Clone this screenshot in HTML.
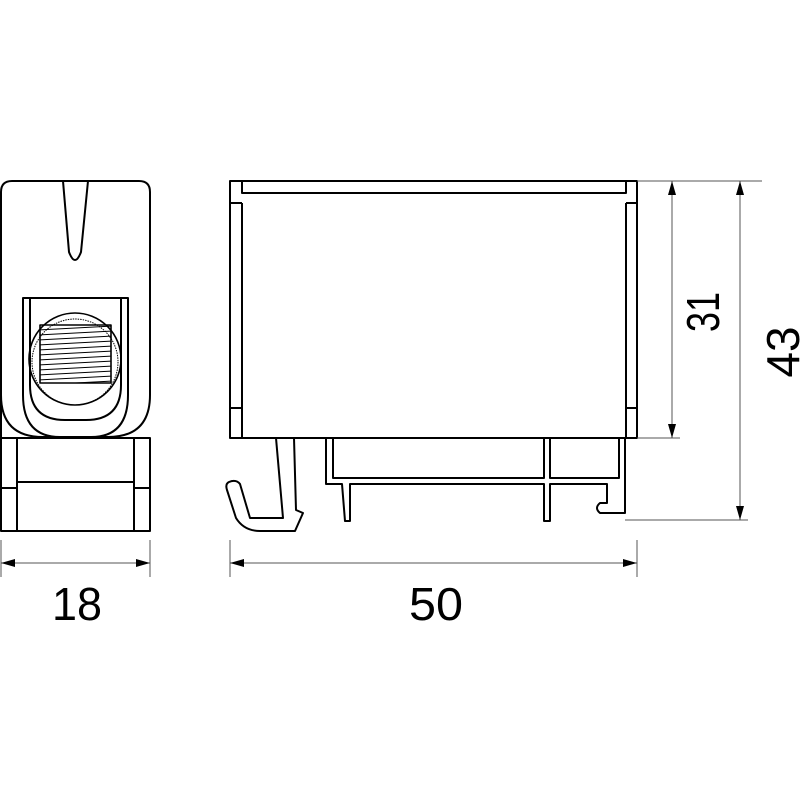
<!DOCTYPE html>
<html><head><meta charset="utf-8"><style>html,body{margin:0;padding:0;background:#fff}svg{display:block}</style></head>
<body>
<svg width="800" height="800" viewBox="0 0 800 800" xmlns="http://www.w3.org/2000/svg">
<defs>
<clipPath id="sq"><rect x="40" y="325" width="71" height="58"/></clipPath>
</defs>
<g fill="none" stroke="#000" stroke-width="2" stroke-linejoin="round">
<!-- front view -->
<path d="M1,438 L1,192 Q1,181 12,181 L139,181 Q150,181 150,192 L150,395 Q150,437 108,437 L43,437 Q1,437 1,395"/>
<path d="M63,181 L69,252 Q75,268 81,252 L88,181"/>
<path d="M23,395 L23,298 L128,298 L128,395"/>
<path d="M23,395 Q23,437 60,437 M128,395 Q128,437 91,437"/>
<path d="M30,298 L30,385 Q30,420 65,420 L86,420 Q121,420 121,385 L121,298"/>
<circle cx="75" cy="359" r="46" stroke-width="1.6"/>
<circle cx="75" cy="362" r="43" stroke-width="1" stroke-dasharray="1.5 1"/>
<rect x="40" y="325" width="71" height="58" stroke-width="1.6"/>
<g clip-path="url(#sq)" stroke-width="1">
<path d="M38,330 L113,326 M38,335 L113,331 M38,340 L113,336 M38,345 L113,341 M38,350 L113,346 M38,355 L113,351 M38,360 L113,356 M38,365 L113,361 M38,370 L113,366 M38,375 L113,371 M38,380 L113,376 M38,385 L113,381"/>
</g>
<rect x="1" y="438" width="149" height="93"/>
<path d="M17,438 L17,531 M134,438 L134,531 M17,482 L134,482 M1,488 L17,488 M134,488 L150,488"/>
<!-- side view -->
<rect x="230" y="181" width="407" height="257"/>
<path d="M242,181 L242,193 L626,193 L626,181"/>
<path d="M242,203 L242,438 M230,203 L242,203 M230,408 L242,408"/>
<path d="M626,203 L626,438 M626,203 L637,203 M626,408 L637,408"/>
<path d="M276,438 L283,518 L250,518 L240,484 Q236,479 229,482 Q225,484 227,490 L236,518 Q244,531 260,531 L295,531 L303,513 L296,510 L294,438"/>
<path d="M326,438 L326,484 L342,484 L345,521 L350,521 L350,484 L544,484 L544,521 L550,521 L550,484 L607,484 L607,503 L600,503 Q594,508 600,513 L625,513 L625,438"/>
<rect x="333" y="438" width="211" height="40"/>
<rect x="550" y="438" width="69" height="40"/>
</g>
<!-- dimension lines -->
<g stroke="#555" stroke-width="1" fill="none">
<path d="M1,540 L1,577 M150,540 L150,577 M230,540 L230,577 M637,540 L637,577"/>
<path d="M1,563 L150,563 M230,563 L637,563"/>
<path d="M637,181 L762,181 M637,438 L680,438 M625,520 L748,520"/>
<path d="M672,181 L672,438 M740,181 L740,520"/>
</g>
<g fill="#000">
<path d="M1,563 l14,-4 l0,8 z M150,563 l-14,-4 l0,8 z M230,563 l14,-4 l0,8 z M637,563 l-14,-4 l0,8 z"/>
<path d="M672,181 l-4,14 l8,0 z M672,438 l-4,-14 l8,0 z M740,181 l-4,14 l8,0 z M740,520 l-4,-14 l8,0 z"/>
</g>
<g font-family="'Liberation Sans', sans-serif" font-size="46" fill="#000" text-anchor="middle">
<text x="77" y="620" textLength="50" lengthAdjust="spacingAndGlyphs">18</text>
<text x="436" y="620" textLength="54" lengthAdjust="spacingAndGlyphs">50</text>
<text transform="translate(719,312) rotate(-90)" textLength="40" lengthAdjust="spacingAndGlyphs">31</text>
<text transform="translate(799,352) rotate(-90)" textLength="51" lengthAdjust="spacingAndGlyphs">43</text>
</g>
</svg>
</body></html>
